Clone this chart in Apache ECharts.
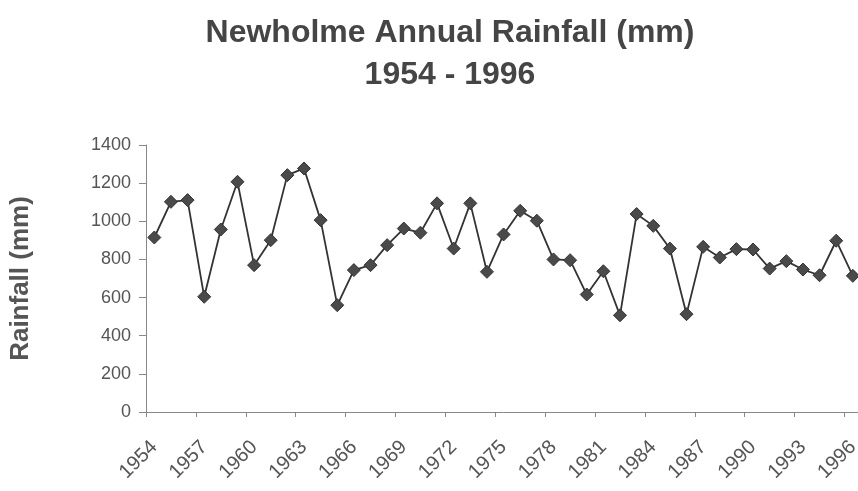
<!DOCTYPE html>
<html><head><meta charset="utf-8">
<script src="https://cdn.jsdelivr.net/npm/echarts@6/dist/echarts.min.js"></script>
<style>html,body{margin:0;padding:0;background:#fff;overflow:hidden}#c{width:862px;height:491px}</style>
</head><body><div id="c"></div>
<script>
var years = [];
for (var y = 1954; y <= 1996; y++) years.push(String(y));
var rainfall = [915,1102,1111,604,957,1207,770,901,1242,1277,1006,560,744,770,875,962,940,1094,857,1094,
  735,931,1055,1003,800,796,616,738,507,1038,976,857,513,866,810,854,852,752,791,747,717,898,714];
var yTicks = [0,200,400,600,800,1000,1200,1400];

var chart = echarts.init(document.getElementById('c'));
chart.setOption({
  animation:false,
  backgroundColor:'#fff',
  title:{
    text:'Newholme Annual Rainfall (mm)\n1954 - 1996',
    left:445, top:7, textAlign:'center',
    textStyle:{fontFamily:'Liberation Sans',fontWeight:'bold',fontSize:32,color:'#454545',lineHeight:42}
  },
  grid:{left:144, top:145, right:0, bottom:79, containLabel:false},
  xAxis:{
    type:'category', data:years, boundaryGap:true,
    axisLine:{lineStyle:{color:'#888',width:1}},
    axisTick:{show:true, interval:2, length:5, lineStyle:{color:'#888'}},
    axisLabel:{interval:2, rotate:45, margin:32, fontFamily:'Liberation Sans', fontSize:20, color:'#555'}
  },
  yAxis:{
    type:'value', min:0, max:1400, interval:200,
    name:'Rainfall (mm)', nameLocation:'middle', nameGap:112, nameRotate:90,
    nameTextStyle:{fontFamily:'Liberation Sans',fontWeight:'bold',fontSize:26,color:'#555'},
    axisLine:{show:true,lineStyle:{color:'#888'}},
    axisTick:{show:true,length:7,lineStyle:{color:'#888'}},
    splitLine:{show:false},
    axisLabel:{fontFamily:'Liberation Sans',fontSize:18,color:'#555',margin:15,
      formatter:function(v){return yTicks.indexOf(v)>=0?String(v):'';}}
  },
  series:[{
    type:'line', data:rainfall, symbol:'diamond', symbolSize:13, showAllSymbol:true,
    lineStyle:{color:'#333',width:1.8},
    itemStyle:{color:'#4a4a4a',borderColor:'#333',borderWidth:1},
    clip:false
  }]
});
</script></body></html>
